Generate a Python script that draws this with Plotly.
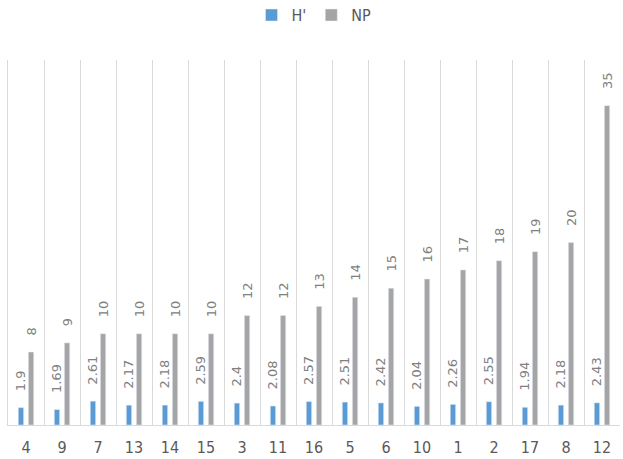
import plotly.graph_objects as go

categories = ["4", "9", "7", "13", "14", "15", "3", "11", "16", "5", "6", "10", "1", "2", "17", "8", "12"]
h_values = [1.9, 1.69, 2.61, 2.17, 2.18, 2.59, 2.4, 2.08, 2.57, 2.51, 2.42, 2.04, 2.26, 2.55, 1.94, 2.18, 2.43]
np_values = [8, 9, 10, 10, 10, 10, 12, 12, 13, 14, 15, 16, 17, 18, 19, 20, 35]

label_font = dict(family="DejaVu Sans", size=13, color="#808080")
narrow = "DejaVu Sans Condensed, Liberation Sans Narrow, Liberation Sans, sans-serif"
pad = "\u00a0\u00a0\u00a0\u00a0"

fig = go.Figure()
fig.add_trace(go.Bar(
    x=categories, y=h_values, name="H'",
    marker_color="#5B9BD5",
    text=[pad + str(v) for v in h_values], textposition="outside", textangle=-90,
    textfont=label_font, cliponaxis=False,
))
fig.add_trace(go.Bar(
    x=categories, y=np_values, name="NP",
    marker_color="#A5A5A5",
    text=[pad + str(v) for v in np_values], textposition="outside", textangle=-90,
    textfont=label_font, cliponaxis=False,
))

fig.update_layout(
    width=623, height=459,
    margin=dict(l=8, r=3, t=60, b=34, autoexpand=False),
    paper_bgcolor="white", plot_bgcolor="white",
    barmode="group", bargap=0.44, bargroupgap=0.47,
    uniformtext=dict(minsize=13, mode="show"),
    legend=dict(orientation="h", x=0.5, xanchor="center", y=1.123, yanchor="middle",
                font=dict(family=narrow, size=16, color="#595959"),
                itemwidth=30, traceorder="normal"),
    xaxis=dict(type="category", tickson="boundaries", showgrid=True, gridcolor="#D9D9D9",
               gridwidth=1, showline=True, linecolor="#D9D9D9", ticks="",
               ticklabelstandoff=8,
               tickfont=dict(family=narrow, size=16, color="#595959")),
    yaxis=dict(range=[0, 40], showticklabels=False, showgrid=False, zeroline=False,
               showline=True, linecolor="#D9D9D9", ticks=""),
)

fig.write_html("out.html")
